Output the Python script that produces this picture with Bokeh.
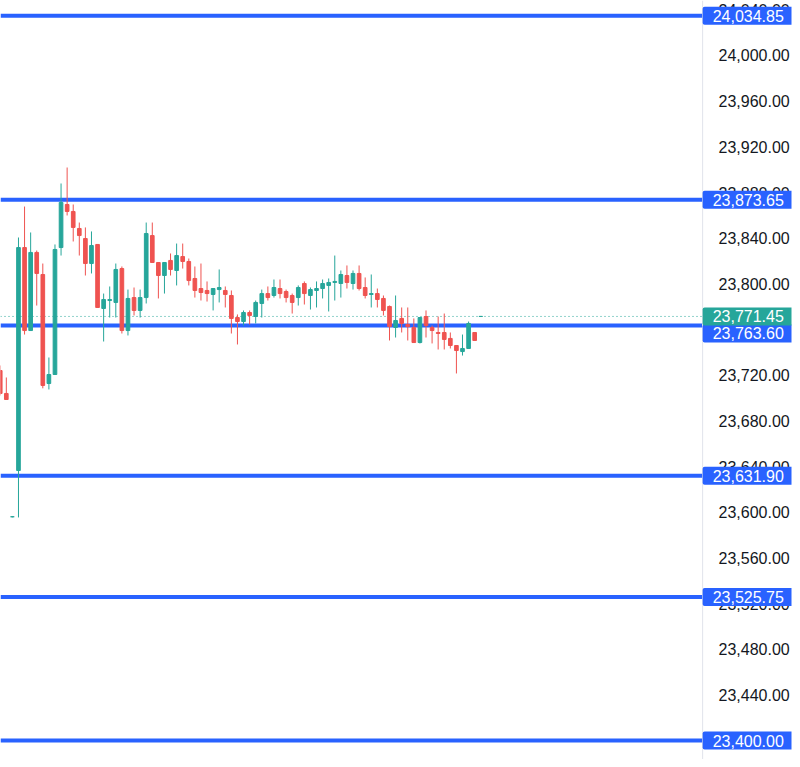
from bokeh.plotting import figure
from bokeh.models import Range1d, Span, Label, FixedTicker, NumeralTickFormatter
from bokeh.embed import file_html
from bokeh.resources import INLINE

# ---- data ----
opens = [23724.1, 23704.0, 23596.0, 23636.5, 23831.8, 23759.1, 23827.5, 23808.2, 23712.7, 23720.6,
         23831.8, 23869.5, 23863.4, 23848.5, 23839.7, 23817.8, 23834.5, 23778.4, 23785.4, 23783.7,
         23813.4, 23759.1, 23788.0, 23776.7, 23788.0, 23842.3, 23818.7, 23807.3, 23820.5, 23811.7,
         23823.9, 23819.6, 23804.7, 23795.9, 23794.2, 23790.7, 23795.0, 23794.2, 23789.8, 23770.5,
         23767.0, 23774.9, 23771.4, 23782.8, 23791.5, 23789.8, 23795.9, 23793.3, 23789.8, 23788.0,
         23800.3, 23789.8, 23794.2, 23795.9, 23798.6, 23801.2, 23800.3, 23807.3, 23800.3, 23809.1,
         23796.8, 23790.7, 23791.5, 23787.2, 23780.2, 23761.8, 23769.7, 23764.4, 23761.8, 23748.6,
         23771.4, 23761.8, 23757.4, 23757.4, 23752.2, 23746.0, 23740.7, 23743.4, 23757.4, 23771.45]
highs = [23728.5, 23718.0, 23596.5, 23840.6, 23867.7, 23845.0, 23829.2, 23817.8, 23735.5, 23834.5,
         23887.9, 23901.9, 23869.5, 23853.7, 23849.4, 23845.9, 23834.5, 23791.5, 23797.7, 23817.8,
         23815.2, 23795.0, 23796.8, 23795.0, 23853.7, 23853.7, 23818.7, 23818.7, 23826.6, 23835.3,
         23835.3, 23822.2, 23815.2, 23817.8, 23802.1, 23795.9, 23812.6, 23797.7, 23794.2, 23773.2,
         23776.7, 23776.7, 23785.4, 23795.0, 23797.7, 23803.8, 23803.8, 23795.0, 23791.5, 23798.6,
         23802.1, 23796.8, 23802.1, 23803.8, 23804.7, 23824.8, 23811.7, 23816.1, 23811.7, 23816.1,
         23805.6, 23808.2, 23795.9, 23789.8, 23781.0, 23789.8, 23779.3, 23779.3, 23769.7, 23770.5,
         23776.7, 23763.5, 23771.4, 23774.0, 23757.4, 23746.0, 23755.6, 23767.0, 23757.4, 23771.45]
lows = [23702.2, 23698.7, 23595.5, 23595.4, 23755.6, 23759.1, 23781.0, 23708.5, 23707.5, 23720.6,
        23824.8, 23859.9, 23837.1, 23824.8, 23807.3, 23809.1, 23779.3, 23749.5, 23770.5, 23770.5,
        23756.5, 23754.8, 23772.3, 23770.5, 23782.8, 23818.7, 23787.2, 23791.5, 23807.3, 23798.6,
        23813.4, 23798.6, 23788.0, 23785.4, 23784.5, 23776.7, 23783.7, 23779.3, 23756.5, 23746.9,
        23763.5, 23764.4, 23765.3, 23770.5, 23785.4, 23788.0, 23787.2, 23783.7, 23774.0, 23781.0,
        23781.9, 23777.5, 23779.3, 23787.2, 23775.8, 23785.4, 23788.0, 23795.9, 23795.0, 23794.2,
        23787.2, 23779.3, 23779.3, 23772.3, 23750.4, 23753.0, 23757.4, 23750.4, 23748.6, 23747.8,
        23753.0, 23747.8, 23742.5, 23742.5, 23743.4, 23721.5, 23737.2, 23743.4, 23750.4, 23771.45]
closes = [23704.0, 23698.7, 23596.0, 23831.8, 23759.1, 23827.5, 23809.1, 23711.0, 23720.6, 23830.1,
          23871.3, 23863.4, 23849.4, 23842.3, 23817.8, 23833.6, 23779.3, 23786.3, 23786.3, 23812.6,
          23759.1, 23787.2, 23776.7, 23788.0, 23844.1, 23818.7, 23807.3, 23818.7, 23812.6, 23824.8,
          23819.6, 23802.9, 23794.2, 23792.4, 23791.5, 23795.9, 23796.8, 23790.7, 23769.7, 23767.0,
          23774.9, 23772.3, 23783.7, 23791.5, 23788.0, 23796.8, 23791.5, 23788.0, 23783.7, 23796.8,
          23791.5, 23795.0, 23795.9, 23800.3, 23801.2, 23802.1, 23808.2, 23801.2, 23809.1, 23795.9,
          23789.8, 23791.5, 23786.3, 23776.7, 23762.6, 23767.9, 23765.3, 23762.6, 23748.6, 23770.5,
          23763.5, 23759.1, 23756.5, 23751.3, 23746.0, 23741.6, 23743.4, 23765.3, 23750.4, 23771.45]

levels = [24034.85, 23873.65, 23763.60, 23631.90, 23525.75, 23400.00]
level_label_shift = [0, 0, -8, 0, 0, 0]
last_price = 23771.45
y_ticks = [23400, 23440, 23480, 23520, 23560, 23600, 23640, 23680, 23720, 23760,
           23800, 23840, 23880, 23920, 23960, 24000, 24040]

UP = "#26a69a"
DOWN = "#ef5350"
BLUE = "#2962ff"
FONT = "Liberation Sans"

idx = list(range(len(opens)))
colors = [UP if c >= o else DOWN for o, c in zip(opens, closes)]
tops = [max(o, c) for o, c in zip(opens, closes)]
bottoms = [min(o, c) for o, c in zip(opens, closes)]

X_START = 0.044      # left edge of the chart area (bar units)
X_AXIS = 115.48      # position of the price scale border (bar units)
X_END = 130.09       # right edge of the figure (bar units)

p = figure(width=792, height=759,
           x_range=Range1d(X_START, X_END), y_range=Range1d(23383.4, 24048.17),
           output_backend="svg", toolbar_location=None,
           y_axis_location="right", x_axis_location=None,
           min_border_left=0, min_border_top=0, min_border_bottom=0, min_border_right=0,
           background_fill_color="white", border_fill_color="white")
p.outline_line_color = None
p.grid.visible = False

# price scale: labels drawn back into the price-scale strip
ax = p.yaxis[0]
ax.ticker = FixedTicker(ticks=y_ticks)
ax.formatter = NumeralTickFormatter(format="0,0.00")
ax.major_tick_line_color = None
ax.minor_tick_line_color = None
ax.axis_line_color = None
ax.major_label_text_font = FONT
ax.major_label_text_font_size = "16px"
ax.major_label_text_color = "#131722"
ax.major_label_standoff = -79

# border of the price scale
p.add_layout(Span(location=X_AXIS, dimension="height", line_color="#e0e3eb", line_width=1))

# level lines up to the price scale
p.segment(x0=[X_START] * len(levels), y0=levels, x1=[X_AXIS] * len(levels), y1=levels,
          line_color=BLUE, line_width=4)
p.segment(x0=[X_START], y0=[last_price], x1=[X_AXIS], y1=[last_price],
          line_color=UP, line_dash="1 3", line_width=1)

# candles
p.segment(x0=idx, y0=lows, x1=idx, y1=highs, line_color=colors, line_width=1)
p.vbar(x=idx, width=0.6, top=tops, bottom=bottoms,
       fill_color=colors, line_color=colors, line_width=1)


def add_tag(y, txt, bg, shift=0):
    p.add_layout(Label(x=X_AXIS, y=y, text=txt, text_color="white",
                       text_font=FONT, text_font_size="16px",
                       text_align="left", text_baseline="middle",
                       background_fill_color=bg, border_radius=2,
                       padding=dict(left=10, right=10, top=3, bottom=3),
                       y_offset=shift))


for lvl, sh in zip(levels, level_label_shift):
    add_tag(lvl, f"{lvl:,.2f}", BLUE, sh)
add_tag(last_price, f"{last_price:,.2f}", UP)

open("out.html", "w").write(file_html(p, INLINE))
